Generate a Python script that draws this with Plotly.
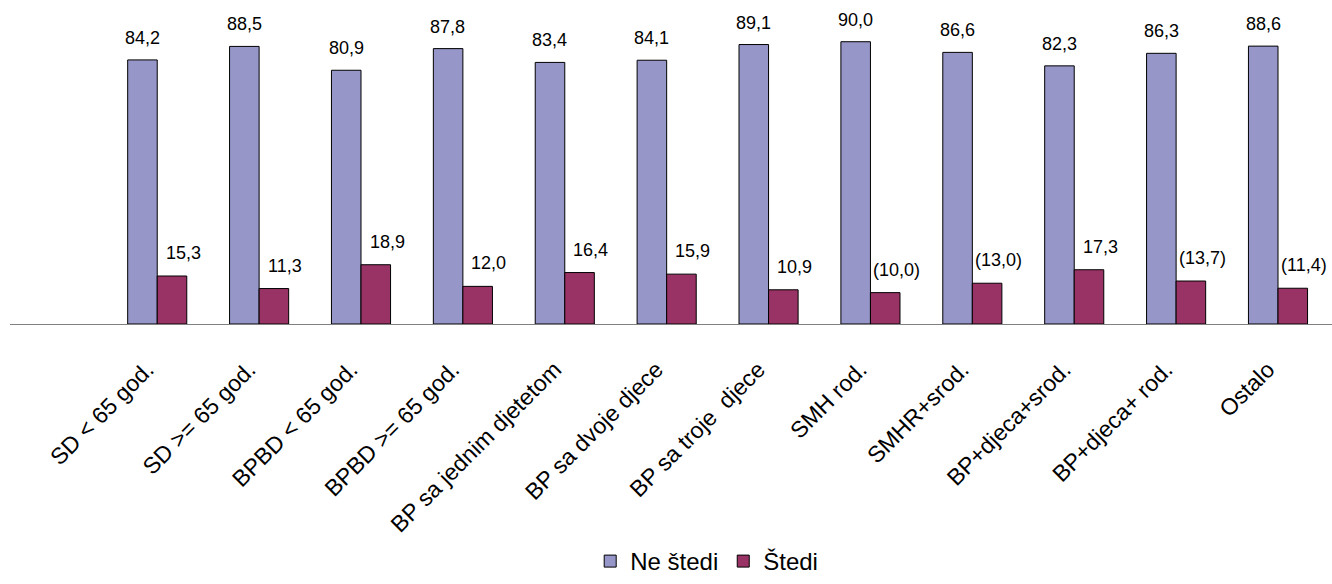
import plotly.graph_objects as go

categories = ["SD < 65 god.", "SD >= 65 god.", "BPBD < 65 god.", "BPBD >= 65 god.",
              "BP sa jednim djetetom", "BP sa dvoje djece", "BP sa troje  djece",
              "SMH rod.", "SMHR+srod.", "BP+djeca+srod.", "BP+djeca+ rod.", "Ostalo"]
ne_stedi = [84.2, 88.5, 80.9, 87.8, 83.4, 84.1, 89.1, 90.0, 86.6, 82.3, 86.3, 88.6]
stedi = [15.3, 11.3, 18.9, 12.0, 16.4, 15.9, 10.9, 10.0, 13.0, 17.3, 13.7, 11.4]
stedi_labels = ["15,3", "11,3", "18,9", "12,0", "16,4", "15,9", "10,9",
                "(10,0)", "(13,0)", "17,3", "(13,7)", "(11,4)"]
ne_stedi_labels = [f"{v:.1f}".replace(".", ",") for v in ne_stedi]

FONT = "Liberation Sans, Arial, sans-serif"
xpos = list(range(len(categories)))

fig = go.Figure()
fig.add_trace(go.Bar(name="Ne štedi", x=xpos, y=ne_stedi,
                     marker=dict(color="#9696C8", line=dict(color="#000000", width=1))))
fig.add_trace(go.Bar(name="Štedi", x=xpos, y=stedi,
                     marker=dict(color="#993366", line=dict(color="#000000", width=1))))

font_lbl = dict(family=FONT, size=18, color="#000000")
for c, v, t in zip(xpos, ne_stedi, ne_stedi_labels):
    fig.add_annotation(x=c, y=v, text=t, showarrow=False, xshift=-15, yshift=10,
                       yanchor="bottom", font=font_lbl)
for c, v, t in zip(xpos, stedi, stedi_labels):
    fig.add_annotation(x=c, y=v, text=t, showarrow=False, xshift=26, yshift=11,
                       yanchor="bottom", font=font_lbl)

fig.update_layout(
    width=1332, height=584,
    margin=dict(l=10, r=0, t=0, b=260),
    barmode="group", bargap=0.42, bargroupgap=0,
    plot_bgcolor="white", paper_bgcolor="white",
    font=dict(family=FONT, color="#000000"),
    xaxis=dict(range=[-1.445, 11.53], tickangle=-45, showline=True, linecolor="#808080",
               linewidth=1, ticks="", tickfont=dict(size=23), showgrid=False,
               tickmode="array", tickvals=[i - 0.1 for i in xpos], ticktext=categories,
               automargin=False, ticklabelstandoff=22, zeroline=False),
    yaxis=dict(range=[0, 103.3], visible=False, showgrid=False, automargin=False),
    legend=dict(orientation="h", x=0.527, xanchor="center", xref="paper",
                y=-0.017, yanchor="bottom", yref="container",
                font=dict(size=24), itemwidth=30, tracegroupgap=0),
    showlegend=True,
)

fig.write_html("out.html", config={"displayModeBar": False},
               post_script="document.body.style.margin='0';document.body.style.overflow='hidden';")
